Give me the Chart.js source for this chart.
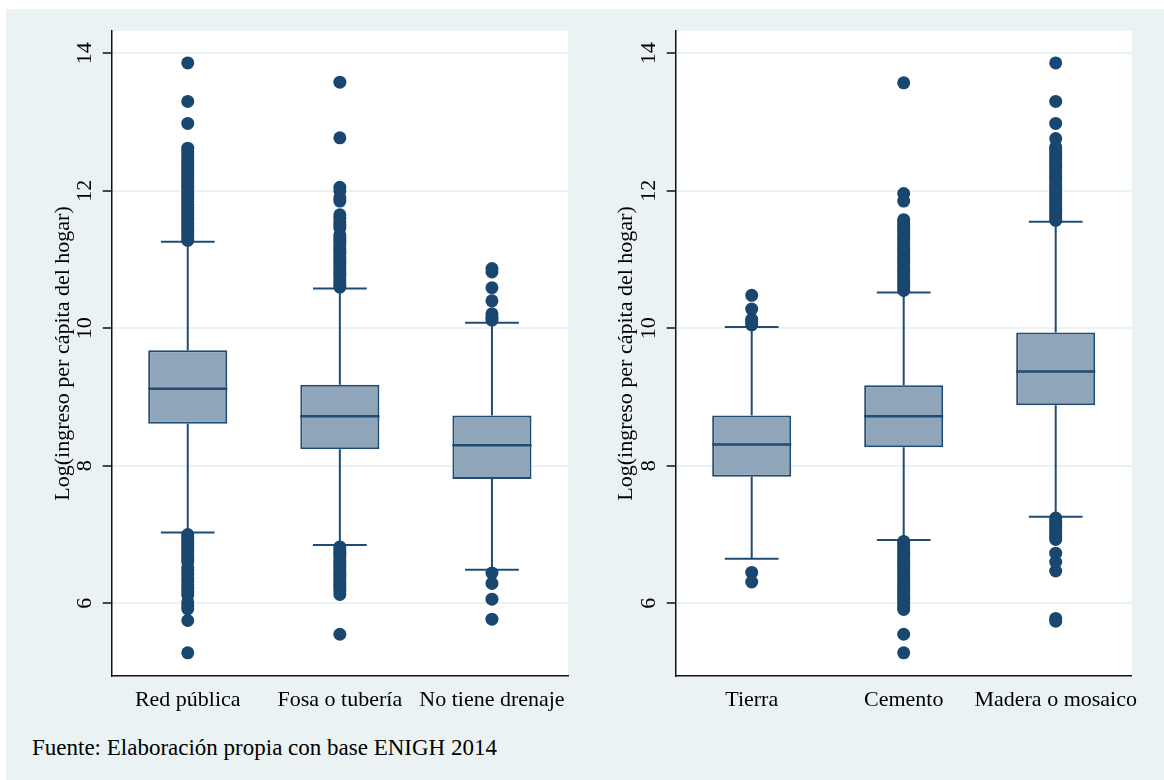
<!DOCTYPE html>
<html>
<head>
<meta charset="utf-8">
<script src="https://cdn.jsdelivr.net/npm/chart.js@4.4.1/dist/chart.umd.min.js"></script>
<style>
  body { margin: 0; background: #fff; width: 1164px; height: 780px; overflow: hidden; position: relative; }
  #panel { position: absolute; left: 6px; top: 9px; width: 1158px; height: 771px; background: #eaf2f3; }
  canvas { position: absolute; }
  #left { left: 6px; top: 9px; }
  #right { left: 606px; top: 9px; }
  #note { position: absolute; left: 32px; top: 734px; font: 23px "Liberation Serif", "Times New Roman", serif; color: #000; line-height: 27px; }
</style>
</head>
<body>
<div id="panel"></div>
<canvas id="left" width="600" height="720"></canvas>
<canvas id="right" width="558" height="720"></canvas>
<div id="note">Fuente: Elaboración propia con base ENIGH 2014</div>
<script>
// y axis
const yMin = 4.943;
const yMax = 14.324;
const yTicks = [6, 8, 10, 12, 14];
const yTitle = "Log(ingreso per cápita del hogar)";

// left panel: drenaje
const drainCats = ["Red pública", "Fosa o tubería", "No tiene drenaje"];
const drainQ1 = [8.61, 8.24, 7.81];
const drainMed = [9.12, 8.72, 8.30];
const drainQ3 = [9.68, 9.18, 8.73];
const drainLo = [7.03, 6.85, 6.49];
const drainHi = [11.26, 10.58, 10.08];
const drainOut = [
  [11.28, 11.32, 11.36, 11.40, 11.44, 11.48, 11.52, 11.56, 11.60, 11.64, 11.68, 11.72, 11.76, 11.80,
   11.84, 11.88, 11.92, 11.96, 12.00, 12.04, 12.08, 12.12, 12.16, 12.20, 12.24, 12.28, 12.32, 12.36,
   12.40, 12.44, 12.48, 12.52, 12.57, 12.62, 12.98, 13.30, 13.86,
   7.00, 6.96, 6.92, 6.88, 6.84, 6.80, 6.76, 6.72, 6.68, 6.64, 6.60, 6.52, 6.47, 6.42, 6.37, 6.32,
   6.27, 6.22, 6.17, 6.12, 6.02, 5.96, 5.92, 5.75, 5.28],
  [10.60, 10.64, 10.68, 10.72, 10.76, 10.80, 10.84, 10.88, 10.92, 10.96, 11.00, 11.04, 11.08, 11.12,
   11.16, 11.20, 11.24, 11.28, 11.32, 11.36, 11.46, 11.50, 11.55, 11.60, 11.65, 11.85, 11.90, 12.00,
   12.05, 12.77, 13.58,
   6.82, 6.78, 6.74, 6.70, 6.66, 6.62, 6.58, 6.54, 6.50, 6.46, 6.42, 6.38, 6.34, 6.30, 6.26, 6.22,
   6.18, 6.13, 5.55],
  [10.12, 10.16, 10.21, 10.40, 10.59, 10.82, 10.87,
   6.44, 6.29, 6.06, 5.77]
];

// right panel: piso
const floorCats = ["Tierra", "Cemento", "Madera o mosaico"];
const floorQ1 = [7.84, 8.27, 8.88];
const floorMed = [8.31, 8.72, 9.37];
const floorQ3 = [8.73, 9.17, 9.94];
const floorLo = [6.65, 6.92, 7.26];
const floorHi = [10.02, 10.52, 11.55];
const floorOut = [
  [10.05, 10.10, 10.13, 10.28, 10.48,
   6.45, 6.31],
  [10.55, 10.59, 10.63, 10.67, 10.71, 10.75, 10.79, 10.83, 10.87, 10.91, 10.95, 10.99, 11.03, 11.07,
   11.11, 11.15, 11.19, 11.23, 11.27, 11.31, 11.35, 11.39, 11.43, 11.47, 11.51, 11.55, 11.58, 11.85,
   11.96, 13.57,
   6.90, 6.86, 6.82, 6.78, 6.74, 6.70, 6.66, 6.62, 6.58, 6.54, 6.50, 6.46, 6.42, 6.38, 6.34, 6.30,
   6.26, 6.22, 6.18, 6.14, 6.10, 6.06, 6.02, 5.98, 5.94, 5.91, 5.55, 5.28],
  [11.57, 11.61, 11.65, 11.69, 11.73, 11.77, 11.81, 11.85, 11.89, 11.93, 11.97, 12.01, 12.05, 12.09,
   12.13, 12.17, 12.21, 12.25, 12.29, 12.33, 12.37, 12.41, 12.45, 12.49, 12.53, 12.57, 12.61, 12.64,
   12.76, 12.98, 13.30, 13.86,
   7.24, 7.20, 7.16, 7.12, 7.08, 7.04, 7.00, 6.96, 6.93, 6.73, 6.60, 6.47, 5.78, 5.74]
];

const navy = "#1a476f";
const boxFill = "#8fa5b9";
const boxLine = "#1f4b74";
const serif = "'Liberation Serif', 'Times New Roman', serif";

// whiskers, caps and medians drawn through the chart's scales
const boxParts = {
  id: "boxParts",
  beforeDatasetsDraw(chart, args, opts) {
    const meta = chart.getDatasetMeta(1);
    const y = chart.scales.y;
    const ctx = chart.ctx;
    ctx.save();
    ctx.strokeStyle = boxLine;
    ctx.lineWidth = 2;
    meta.data.forEach((bar, i) => {
      const cap = bar.width * 0.34;
      ctx.beginPath();
      ctx.moveTo(bar.x, y.getPixelForValue(opts.q3[i]));
      ctx.lineTo(bar.x, y.getPixelForValue(opts.hi[i]));
      ctx.moveTo(bar.x, y.getPixelForValue(opts.q1[i]));
      ctx.lineTo(bar.x, y.getPixelForValue(opts.lo[i]));
      ctx.moveTo(bar.x - cap, y.getPixelForValue(opts.hi[i]));
      ctx.lineTo(bar.x + cap, y.getPixelForValue(opts.hi[i]));
      ctx.moveTo(bar.x - cap, y.getPixelForValue(opts.lo[i]));
      ctx.lineTo(bar.x + cap, y.getPixelForValue(opts.lo[i]));
      ctx.stroke();
    });
    ctx.restore();
  },
  afterDatasetDraw(chart, args, opts) {
    if (args.index !== 1) return;
    const y = chart.scales.y;
    const ctx = chart.ctx;
    ctx.save();
    ctx.strokeStyle = boxLine;
    ctx.lineWidth = 2.5;
    args.meta.data.forEach((bar, i) => {
      const py = y.getPixelForValue(opts.med[i]);
      ctx.beginPath();
      ctx.moveTo(bar.x - bar.width / 2, py);
      ctx.lineTo(bar.x + bar.width / 2, py);
      ctx.stroke();
    });
    ctx.restore();
  }
};

const whiteArea = {
  id: "whiteArea",
  beforeDraw(chart) {
    const a = chart.chartArea;
    chart.ctx.save();
    chart.ctx.fillStyle = "#fff";
    chart.ctx.fillRect(a.left, a.top, a.right - a.left, a.bottom - a.top);
    chart.ctx.restore();
  }
};

function makeBox(canvasId, cats, q1, med, q3, lo, hi, outs, axisWidth, padRight, titlePad) {
  const points = [];
  outs.forEach((list, i) => list.forEach(v => points.push({ x: cats[i], y: v })));

  new Chart(document.getElementById(canvasId), {
    type: "bar",
    data: {
      labels: cats,
      datasets: [
        {
          type: "scatter",
          data: points,
          pointRadius: 6.5,
          pointHoverRadius: 6.5,
          backgroundColor: navy,
          borderWidth: 0
        },
        {
          data: q1.map((v, i) => [v, q3[i]]),
          backgroundColor: boxFill,
          borderColor: boxLine,
          borderWidth: 2,
          borderSkipped: false,
          categoryPercentage: 1,
          barPercentage: 0.52
        }
      ]
    },
    options: {
      responsive: false,
      animation: false,
      layout: { padding: { left: 0, right: padRight, top: 22, bottom: 0 } },
      plugins: {
        legend: { display: false },
        tooltip: { enabled: false },
        boxParts: { q1: q1, med: med, q3: q3, lo: lo, hi: hi }
      },
      scales: {
        x: {
          offset: true,
          grid: { display: false, drawTicks: false },
          border: { display: true, color: "#111", width: 1.5 },
          ticks: {
            color: "#000",
            padding: 11,
            minRotation: 0,
            maxRotation: 0,
            autoSkip: false,
            font: { family: serif, size: 22 }
          },
          afterFit: s => { s.height = 53; }
        },
        y: {
          min: yMin,
          max: yMax,
          afterBuildTicks: s => { s.ticks = yTicks.map(v => ({ value: v })); },
          grid: { color: "#eaf2f3", lineWidth: 2, tickColor: "#111", tickWidth: 1.5, tickLength: 9 },
          border: { display: true, color: "#111", width: 1.5 },
          ticks: {
            color: "#000",
            minRotation: 90,
            maxRotation: 90,
            crossAlign: "center",
            padding: 6,
            font: { family: serif, size: 22 }
          },
          title: {
            display: true,
            text: yTitle,
            color: "#000",
            padding: { top: titlePad, bottom: 0 },
            font: { family: serif, size: 22 }
          },
          afterFit: s => { s.width = axisWidth; }
        }
      }
    },
    plugins: [whiteArea, boxParts]
  });
}

makeBox("left", drainCats, drainQ1, drainMed, drainQ3, drainLo, drainHi, drainOut, 105.7, 38, 44);
makeBox("right", floorCats, floorQ1, floorMed, floorQ3, floorLo, floorHi, floorOut, 69.7, 32.3, 6.8);
</script>
</body>
</html>
